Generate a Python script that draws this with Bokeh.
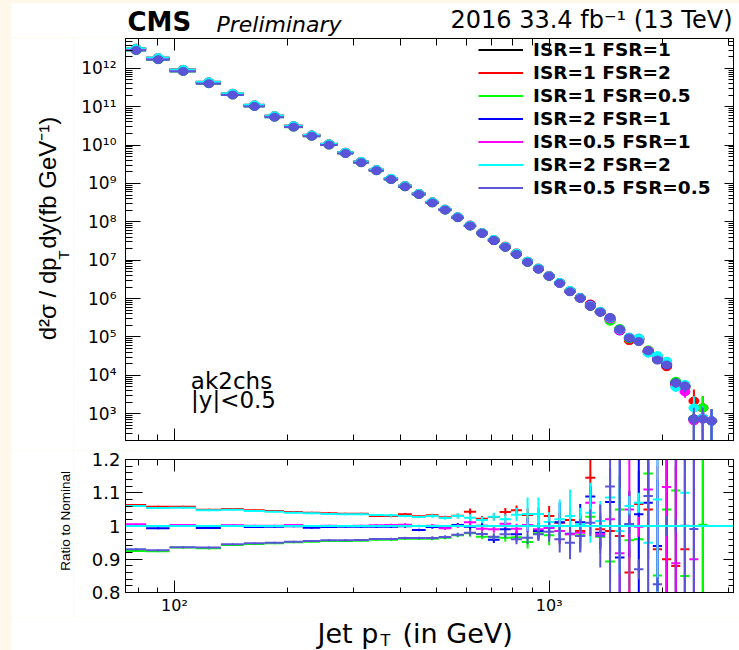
import numpy as np
from bokeh.plotting import figure
from bokeh.models import (Range1d, FixedTicker, LogAxis, LinearAxis, CustomJSTickFormatter,
                          Label, Legend, LegendItem, Span, ColumnDataSource, Spacer)
from bokeh.layouts import column, row
from bokeh.embed import file_html
from bokeh.resources import INLINE

# ---------------- data ----------------
bin_edges = [74, 84, 97, 114, 133, 153, 174, 196, 220, 245, 272, 300, 330, 362, 395, 430,
             468, 507, 548, 592, 638, 686, 737, 790, 846, 905, 967, 1032, 1101, 1172, 1248,
             1327, 1410, 1497, 1588, 1684, 1784, 1890, 2000, 2116, 2238, 2366, 2500, 2640, 2787]

variant_labels = ["ISR=1 FSR=1", "ISR=1 FSR=2", "ISR=1 FSR=0.5", "ISR=2 FSR=1",
                  "ISR=0.5 FSR=1", "ISR=2 FSR=2", "ISR=0.5 FSR=0.5"]
variant_colors = ["#000000", "#ff0000", "#00ff00", "#0000ff", "#ff00ff", "#00ffff", "#5954d8"]

# nominal cross section, log10(fb/GeV)
nominal_log10 = [12.50, 12.26, 11.95, 11.63, 11.33, 11.03, 10.75, 10.49, 10.25, 10.02,
                 9.80, 9.56, 9.35, 9.12, 8.93, 8.73, 8.51, 8.32, 8.12, 7.90,
                 7.71, 7.53, 7.35, 7.17, 6.96, 6.78, 6.59, 6.41, 6.20, 6.02,
                 5.80, 5.66, 5.46, 5.20, 4.97, 4.94, 4.60, 4.48, 4.27, 3.80,
                 3.72, 2.86, 3.15, 2.81]

# relative statistical uncertainty of the spectra
spectrum_rel_err = [0.005, 0.005, 0.005, 0.005, 0.005, 0.005, 0.005, 0.005, 0.005, 0.005,
                    0.005, 0.005, 0.005, 0.005, 0.005, 0.005, 0.005, 0.005, 0.005, 0.005,
                    0.01, 0.01, 0.01, 0.01, 0.01, 0.01, 0.01, 0.01, 0.01, 0.01,
                    0.03, 0.04, 0.05, 0.06, 0.08, 0.10, 0.12, 0.15, 0.20, 0.25,
                    0.30, 1.0, 1.0, 1.0]

ratio_isr1_fsr2 = [1.063, 1.058, 1.058, 1.049, 1.051, 1.047, 1.045, 1.042, 1.040, 1.038,
                   1.037, 1.037, 1.030, 1.030, 1.035, 1.029, 1.032, 1.026, 1.031, 1.043,
                   1.022, 1.027, 1.042, 1.047, 1.033, 1.036, 1.030, 1.010, 1.018, 0.985,
                   1.145, 0.990, 0.985, 0.970, 0.860, 1.066, 1.050, 0.930, 0.900, 0.880,
                   0.930, 2.950, 1.000, 1.000]
err_isr1_fsr2 = [0.003, 0.003, 0.003, 0.003, 0.003, 0.003, 0.003, 0.003, 0.003, 0.003,
                 0.003, 0.003, 0.003, 0.004, 0.004, 0.004, 0.005, 0.005, 0.006, 0.010,
                 0.008, 0.010, 0.012, 0.015, 0.020, 0.020, 0.030, 0.030, 0.040, 0.050,
                 0.170, 0.050, 0.060, 0.080, 0.070, 0.100, 0.150, 0.250, 0.300, 0.300,
                 0.400, 0.500, 0.500, 0.000]

ratio_isr1_fsr05 = [0.925, 0.924, 0.935, 0.933, 0.943, 0.946, 0.948, 0.951, 0.953, 0.955,
                    0.955, 0.956, 0.959, 0.959, 0.962, 0.962, 0.962, 0.965, 0.972, 0.978,
                    0.968, 0.966, 0.965, 0.966, 0.952, 0.978, 0.972, 0.985, 0.975, 0.972,
                    1.028, 0.968, 0.893, 1.050, 0.957, 0.960, 1.158, 0.851, 1.050, 1.107,
                    0.850, 1.000, 1.004, 1.000]
err_isr1_fsr05 = [0.003, 0.003, 0.003, 0.003, 0.003, 0.003, 0.003, 0.003, 0.003, 0.003,
                  0.003, 0.003, 0.003, 0.004, 0.004, 0.004, 0.005, 0.005, 0.006, 0.010,
                  0.008, 0.010, 0.012, 0.015, 0.020, 0.020, 0.030, 0.040, 0.050, 0.050,
                  0.060, 0.050, 0.060, 0.100, 0.150, 0.100, 0.150, 0.100, 0.300, 0.300,
                  0.300, 0.300, 0.600, 0.000]

ratio_isr2_fsr1 = [1.000, 0.993, 1.000, 0.994, 1.001, 0.997, 0.998, 0.999, 0.995, 0.997,
                   0.998, 0.998, 0.998, 0.998, 0.999, 0.988, 0.997, 0.996, 1.003, 0.998,
                   1.001, 0.959, 0.990, 0.975, 1.003, 0.985, 0.995, 1.011, 0.977, 1.011,
                   1.089, 0.980, 1.072, 0.905, 1.005, 1.035, 1.070, 0.940, 1.000, 1.000,
                   1.000, 1.000, 0.550, 1.000]
err_isr2_fsr1 = [0.003, 0.003, 0.003, 0.003, 0.003, 0.003, 0.003, 0.003, 0.003, 0.003,
                 0.003, 0.003, 0.003, 0.004, 0.004, 0.004, 0.005, 0.005, 0.006, 0.010,
                 0.008, 0.010, 0.012, 0.015, 0.020, 0.025, 0.030, 0.060, 0.050, 0.055,
                 0.030, 0.050, 0.100, 0.300, 0.100, 0.400, 0.120, 0.200, 0.300, 0.300,
                 0.300, 0.300, 0.100, 0.000]

ratio_isr05_fsr1 = [1.005, 1.000, 1.003, 1.000, 1.002, 1.001, 1.001, 1.003, 1.000, 1.001,
                    1.000, 1.001, 1.002, 1.003, 1.004, 1.000, 1.001, 0.993, 1.000, 1.011,
                    0.992, 0.990, 1.007, 0.992, 1.003, 0.990, 0.995, 0.985, 0.975, 0.980,
                    1.070, 0.975, 1.020, 0.918, 1.050, 0.998, 1.110, 1.000, 1.117, 0.888,
                    0.710, 0.900, 0.550, 1.000]
err_isr05_fsr1 = [0.003, 0.003, 0.003, 0.003, 0.003, 0.003, 0.003, 0.003, 0.003, 0.003,
                  0.003, 0.003, 0.003, 0.004, 0.004, 0.004, 0.005, 0.005, 0.006, 0.010,
                  0.008, 0.010, 0.012, 0.015, 0.020, 0.025, 0.030, 0.040, 0.050, 0.050,
                  0.050, 0.040, 0.100, 0.150, 0.400, 0.030, 0.150, 0.200, 0.400, 0.400,
                  0.300, 0.300, 0.100, 0.000]

ratio_isr2_fsr2 = [1.060, 1.054, 1.055, 1.047, 1.049, 1.045, 1.043, 1.040, 1.038, 1.036,
                   1.035, 1.035, 1.033, 1.032, 1.030, 1.027, 1.030, 1.024, 1.030, 1.025,
                   1.018, 1.028, 1.020, 1.034, 1.036, 1.036, 1.012, 1.020, 1.030, 1.005,
                   1.040, 1.015, 1.086, 0.985, 1.060, 1.070, 0.950, 1.080, 1.250, 0.780,
                   1.100, 1.950, 0.550, 1.000]
err_isr2_fsr2 = [0.003, 0.003, 0.003, 0.003, 0.003, 0.003, 0.003, 0.003, 0.003, 0.003,
                 0.003, 0.003, 0.003, 0.004, 0.004, 0.004, 0.005, 0.005, 0.008, 0.010,
                 0.010, 0.012, 0.015, 0.020, 0.050, 0.050, 0.030, 0.060, 0.080, 0.050,
                 0.090, 0.060, 0.080, 0.130, 0.030, 0.030, 0.150, 0.400, 0.030, 0.010,
                 0.400, 0.500, 0.100, 0.000]

ratio_isr05_fsr05 = [0.930, 0.927, 0.936, 0.935, 0.945, 0.948, 0.950, 0.953, 0.955, 0.957,
                     0.957, 0.958, 0.961, 0.961, 0.964, 0.964, 0.964, 0.967, 0.974, 0.980,
                     0.976, 0.968, 0.975, 0.960, 0.965, 0.975, 0.983, 0.960, 0.950, 0.970,
                     1.010, 0.970, 1.119, 1.000, 1.006, 0.870, 1.090, 0.825, 1.000, 1.000,
                     1.001, 0.991, 0.510, 1.000]
err_isr05_fsr05 = [0.003, 0.003, 0.003, 0.003, 0.003, 0.003, 0.003, 0.003, 0.003, 0.003,
                   0.003, 0.003, 0.003, 0.004, 0.004, 0.004, 0.005, 0.005, 0.006, 0.010,
                   0.008, 0.010, 0.012, 0.015, 0.020, 0.020, 0.030, 0.040, 0.050, 0.050,
                   0.040, 0.095, 0.400, 0.400, 0.030, 0.030, 0.400, 0.020, 0.030, 0.020,
                   0.400, 0.400, 0.200, 0.000]

x_tick_major = [100, 1000]
x_tick_minor = [80, 90, 200, 300, 400, 500, 600, 700, 800, 900, 2000, 3000]
ratio_ticks = [0.8, 0.9, 1.0, 1.1, 1.2]

# ---------------- derived ----------------
edges = np.array(bin_edges, dtype=float)
lo, hi = edges[:-1], edges[1:]
ctr = 0.5 * (lo + hi)
nominal = 10.0 ** np.array(nominal_log10)
rel = np.array(spectrum_rel_err)
nbin = len(ctr)
ratios = [np.ones(nbin), np.array(ratio_isr1_fsr2), np.array(ratio_isr1_fsr05),
          np.array(ratio_isr2_fsr1), np.array(ratio_isr05_fsr1), np.array(ratio_isr2_fsr2),
          np.array(ratio_isr05_fsr05)]
rerrs = [np.zeros(nbin), np.array(err_isr1_fsr2), np.array(err_isr1_fsr05),
         np.array(err_isr2_fsr1), np.array(err_isr05_fsr1), np.array(err_isr2_fsr2),
         np.array(err_isr05_fsr05)]

X0, X1 = 74, 3103
Y0, Y1 = 200, 6e12
MID = 0.346  # baseline -> middle of text box, in em

log_fmt = CustomJSTickFormatter(code="""
const sup = {"0":"\\u2070","1":"\\u00b9","2":"\\u00b2","3":"\\u00b3","4":"\\u2074",
             "5":"\\u2075","6":"\\u2076","7":"\\u2077","8":"\\u2078","9":"\\u2079","-":"\\u207b"};
const e = Math.round(Math.log10(tick));
return "10" + String(e).split("").map(c => sup[c]).join("");
""")
ratio_fmt = CustomJSTickFormatter(code="""
return Math.abs(tick - 1) < 1e-6 ? "1" : tick.toFixed(1);
""")
blank_fmt = CustomJSTickFormatter(code='return "";')


def style_axis(ax, major_in, minor_in, label_size=None, standoff=0, font="DejaVu Sans"):
    ax.major_tick_in = major_in
    ax.major_tick_out = 0
    ax.minor_tick_in = minor_in
    ax.minor_tick_out = 0
    ax.axis_line_color = "black"
    ax.axis_line_width = 1
    ax.major_tick_line_color = "black"
    ax.minor_tick_line_color = "black"
    ax.major_tick_line_width = 1
    ax.minor_tick_line_width = 1
    if label_size is None:
        ax.formatter = blank_fmt
        ax.major_label_text_font_size = "0px"
        ax.major_label_standoff = 0
    else:
        ax.major_label_text_font = font
        ax.major_label_text_font_size = label_size
        ax.major_label_text_color = "black"
        ax.major_label_standoff = standoff


def text_fig(w, h, x_left, x_right, y_top, y_bottom):
    # a blank canvas whose data coordinates are the page pixel coordinates
    f = figure(width=w, height=h, x_range=Range1d(x_left, x_right),
               y_range=Range1d(y_bottom, y_top), output_backend="svg",
               toolbar_location=None, min_border=0, x_axis_location=None,
               y_axis_location=None, outline_line_color=None,
               background_fill_color="white", border_fill_color="white")
    f.grid.visible = False
    return f


def add_text(f, x, baseline, text, size, font="DejaVu Sans", style="normal",
             align="left", angle=0.0):
    # place text by its baseline (vertical baseline x for rotated text)
    if angle == 0.0:
        xx, yy = x, baseline - MID * size
    else:
        xx, yy = baseline - MID * size, x
    f.add_layout(Label(x=xx, y=yy, text=text, text_font=font,
                       text_font_size=f"{size}px", text_font_style=style,
                       text_align=align, text_baseline="middle", angle=angle,
                       text_color="black"))


y_major = [10.0 ** k for k in range(3, 13)]
y_minor = [m * 10.0 ** k for k in range(2, 13) for m in range(2, 10) if Y0 <= m * 10.0 ** k <= Y1]

# ---------------- header ----------------
header = text_fig(728, 34, 11, 739, 3, 37)
add_text(header, 127, 30.5, "CMS", 26, style="bold")
add_text(header, 216, 31.5, "Preliminary", 22, style="italic")
add_text(header, 732, 28, "2016 33.4 fb\u207b\u00b9 (13 TeV)", 24, align="right")

# ---------------- top panel ----------------
xr = Range1d(X0, X1)
p1 = figure(width=666, height=413, x_axis_type="log", y_axis_type="log",
            x_range=xr, y_range=Range1d(Y0, Y1),
            output_backend="svg", toolbar_location=None,
            min_border_left=52, min_border_right=6, min_border_top=1, min_border_bottom=10,
            background_fill_color="white", border_fill_color="white",
            outline_line_color="black")
p1.grid.visible = False

ax = p1.yaxis[0]
ax.ticker = FixedTicker(ticks=y_major, minor_ticks=y_minor)
ax.formatter = log_fmt
style_axis(ax, 15, 7, "17px", 9)
ax = LogAxis(ticker=FixedTicker(ticks=y_major, minor_ticks=y_minor))
style_axis(ax, 9, 5)
p1.add_layout(ax, "right")
ax = p1.xaxis[0]
ax.ticker = FixedTicker(ticks=x_tick_major, minor_ticks=x_tick_minor)
style_axis(ax, 12, 6)
ax = LogAxis(ticker=FixedTicker(ticks=x_tick_major, minor_ticks=x_tick_minor))
style_axis(ax, 12, 7)
p1.add_layout(ax, "above")

legend_renderers = []
for i, col in enumerate(variant_colors):
    y = nominal * ratios[i]
    src = ColumnDataSource(dict(lo=lo, hi=hi, x=ctr, y=y,
                                ylo=np.maximum(y * (1 - rel), 1.0), yhi=y * (1 + rel)))
    h = p1.segment(x0="lo", x1="hi", y0="y", y1="y", source=src, line_color=col, line_width=2)
    p1.segment(x0="x", x1="x", y0="ylo", y1="yhi", source=src, line_color=col, line_width=2)
    p1.ellipse(x="x", y="y", width=10, height=8, width_units="screen", height_units="screen",
               source=src, fill_color=col, line_color=col)
    legend_renderers.append(h)

legend = Legend(items=[LegendItem(label=lab, renderers=[r])
                       for lab, r in zip(variant_labels, legend_renderers)],
                location=(353, 241), orientation="vertical",
                glyph_width=45, glyph_height=23, label_height=23, label_standoff=10,
                spacing=0, padding=0, margin=0, border_line_color=None,
                background_fill_alpha=0, label_text_font="DejaVu Sans",
                label_text_font_style="bold", label_text_font_size="18.5px",
                label_text_color="black")
p1.add_layout(legend)

# in-frame texts (data anchor = frame bottom-left, offsets in px)
for txt, xo, base in [("ak2chs", 106, 388), ("|y|<0.5", 108, 407)]:
    p1.add_layout(Label(x=X0, y=Y0, x_offset=xo, y_offset=440 - base + MID * 23, text=txt,
                        text_font="DejaVu Sans", text_font_size="23px", text_align="center",
                        text_baseline="middle", text_color="black"))

ytitle1 = text_fig(62, 413, 11, 73, 37, 450)
add_text(ytitle1, 347, 55, "d\u00b2\u03c3 / dp", 24, font="Liberation Sans", angle=np.pi / 2)
add_text(ytitle1, 264, 68, "T", 15, font="Liberation Sans", angle=np.pi / 2)
add_text(ytitle1, 253, 55, "dy(fb GeV\u207b\u00b9)", 24, font="Liberation Sans", angle=np.pi / 2)

# ---------------- ratio panel ----------------
r_minor = [round(0.8 + 0.02 * k, 2) for k in range(21)]
p2 = figure(width=666, height=167, x_axis_type="log", x_range=xr, y_range=Range1d(0.8, 1.2),
            output_backend="svg", toolbar_location=None,
            min_border_left=52, min_border_right=6, min_border_top=9, min_border_bottom=22,
            background_fill_color="white", border_fill_color="white",
            outline_line_color="black")
p2.grid.visible = False

ax = p2.yaxis[0]
ax.ticker = FixedTicker(ticks=ratio_ticks, minor_ticks=r_minor)
ax.formatter = ratio_fmt
style_axis(ax, 17, 7, "18px", 5)
ax = LinearAxis(ticker=FixedTicker(ticks=ratio_ticks, minor_ticks=r_minor))
style_axis(ax, 10, 5)
p2.add_layout(ax, "right")
ax = p2.xaxis[0]
ax.ticker = FixedTicker(ticks=x_tick_major, minor_ticks=x_tick_minor)
ax.formatter = log_fmt
style_axis(ax, 12, 5, "16px", 3)
ax = LogAxis(ticker=FixedTicker(ticks=x_tick_major, minor_ticks=x_tick_minor))
style_axis(ax, 12, 6)
p2.add_layout(ax, "above")

for i, col in enumerate(variant_colors):
    r = ratios[i]
    e = rerrs[i]
    src = ColumnDataSource(dict(lo=lo, hi=hi, x=ctr, r=r, rlo=r - e, rhi=r + e))
    p2.segment(x0="lo", x1="hi", y0="r", y1="r", source=src, line_color=col, line_width=2)
    p2.segment(x0="x", x1="x", y0="rlo", y1="rhi", source=src, line_color=col, line_width=2)

p2.add_layout(Span(location=1.0, dimension="width", line_color="#00ffff", line_width=2))

ytitle2 = text_fig(62, 167, 11, 73, 450, 617)
add_text(ytitle2, 527, 69.5, "Ratio to Nominal", 13.5, font="Liberation Sans",
         align="center", angle=np.pi / 2)

xtitle = text_fig(728, 33, 11, 739, 617, 650)
add_text(xtitle, 317, 642, "Jet p", 27)
add_text(xtitle, 380, 646, "T", 16)
add_text(xtitle, 402, 642, "(in GeV)", 27)

root = column(Spacer(width=739, height=3),
              row(Spacer(width=11, height=647),
                  column(header,
                         row(ytitle1, p1),
                         row(ytitle2, p2),
                         xtitle)),
              styles={"background-color": "#fdf8ea"})

open("out.html", "w", encoding="utf-8").write(file_html(root, INLINE))
